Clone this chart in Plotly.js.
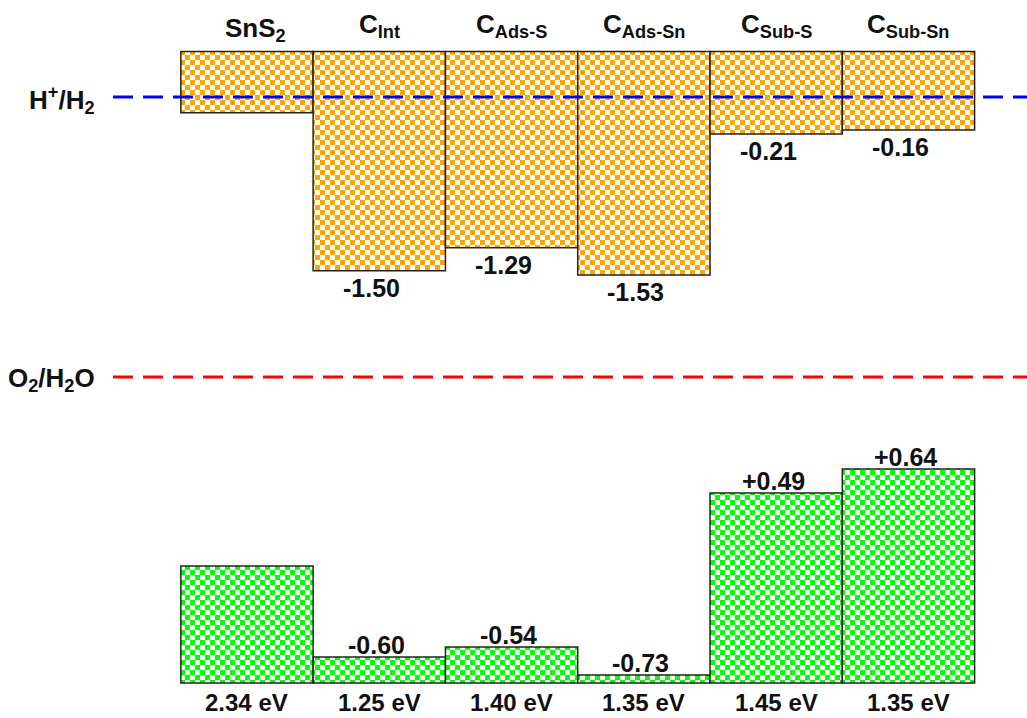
<!DOCTYPE html>
<html>
<head>
<meta charset="utf-8">
<script src="https://cdn.plot.ly/plotly-3.0.1.min.js"></script>
<style>
html,body{margin:0;padding:0;background:#fff;}
#chart{width:1027px;height:718px;}
</style>
</head>
<body>
<div id="chart"></div>
<script>
// ---- data (schematic vertical scale, H+/H2 = 0, O2/H2O = 1.23) ----
const categories = ['SnS<sub>2</sub>', 'C<sub>Int</sub>', 'C<sub>Ads-S</sub>', 'C<sub>Ads-Sn</sub>', 'C<sub>Sub-S</sub>', 'C<sub>Sub-Sn</sub>'];
const cbLabels   = ['', '-1.50', '-1.29', '-1.53', '-0.21', '-0.16'];
const vbLabels   = ['', '-0.60', '-0.54', '-0.73', '+0.49', '+0.64'];
const gapLabels  = ['2.34 eV', '1.25 eV', '1.40 eV', '1.35 eV', '1.45 eV', '1.35 eV'];
const cbTop      = [-0.20, -0.20, -0.20, -0.20, -0.20, -0.20];
const cbEdge     = [0.069, 0.763, 0.662, 0.782, 0.163, 0.145];
const vbBottom   = [2.574, 2.574, 2.574, 2.574, 2.574, 2.574];
const vbEdge     = [2.060, 2.460, 2.416, 2.539, 1.740, 1.634];
const redoxLevels = [0, 1.23];
const redoxNames  = ['H<sup>+</sup>/H<sub>2</sub>', 'O<sub>2</sub>/H<sub>2</sub>O'];
const redoxColors = ['#0000ff', '#ff0000'];

const idx = categories.map((_, i) => i);
const FONT = 'Liberation Sans, Arial, Helvetica, sans-serif';
const checker = 'M0,0H5V5H0ZM5,5H10V10H5Z';
const F = (sz) => ({family: FONT, size: sz, color: '#111111', weight: 'bold'});

const cbTrace = {
  type: 'bar', x: idx, base: cbTop,
  y: cbEdge.map((v, i) => v - cbTop[i]),
  width: 1,
  marker: {
    color: '#ffa500',
    line: {color: '#222222', width: 1.5},
    pattern: {path: checker, size: 10, fgcolor: '#ffa500', bgcolor: '#ffffff', fillmode: 'replace', solidity: 1}
  },
  hoverinfo: 'skip', showlegend: false
};
const vbTrace = {
  type: 'bar', x: idx, base: vbBottom,
  y: vbEdge.map((v, i) => v - vbBottom[i]),
  width: 1,
  marker: {
    color: '#00ff00',
    line: {color: '#222222', width: 1.5},
    pattern: {path: checker, size: 10, fgcolor: '#00ff00', bgcolor: '#ffffff', fillmode: 'replace', solidity: 1}
  },
  hoverinfo: 'skip', showlegend: false
};

const ann = [];
const H = 718;
categories.forEach((c, i) => {
  ann.push({x: i, xref: 'x', y: 1 - (i === 0 ? 29 : 25) / H, yref: 'paper',
    text: c, showarrow: false, xanchor: 'center', yanchor: 'middle',
    xshift: i === 0 ? 9 : 0, font: F(26)});
  if (cbLabels[i]) ann.push({x: i, xref: 'x', y: cbEdge[i], yref: 'y', yshift: -17, xshift: -8,
    text: cbLabels[i], showarrow: false, xanchor: 'center', yanchor: 'middle', font: F(25)});
  if (vbLabels[i]) ann.push({x: i, xref: 'x', y: vbEdge[i], yref: 'y', yshift: 12, xshift: -3,
    text: vbLabels[i], showarrow: false, xanchor: 'center', yanchor: 'middle', font: F(25)});
  ann.push({x: i, xref: 'x', y: vbBottom[i], yref: 'y', yshift: -20, borderpad: 0,
    text: gapLabels[i], showarrow: false, xanchor: 'center', yanchor: 'middle', font: F(24)});
});
const shapes = [];
redoxLevels.forEach((lv, k) => {
  shapes.push({type: 'line', xref: 'paper', x0: 113 / 1027, x1: 1, yref: 'y', y0: lv, y1: lv,
    line: {color: redoxColors[k], width: 3, dash: '20px,10px'}, layer: 'above'});
  ann.push({x: 97 / 1027, xref: 'paper', y: lv, yref: 'y', yshift: -3,
    text: redoxNames[k], showarrow: false, xanchor: 'right', yanchor: 'middle', font: F(26)});
});

const layout = {
  width: 1027, height: 718,
  margin: {l: 0, r: 0, t: 0, b: 0, pad: 0},
  paper_bgcolor: '#ffffff', plot_bgcolor: '#ffffff',
  barmode: 'overlay', bargap: 0,
  xaxis: {range: [-1.867, 5.896], visible: false, fixedrange: true},
  yaxis: {range: [2.728, -0.4261], visible: false, fixedrange: true},
  annotations: ann, shapes: shapes, showlegend: false
};
Plotly.newPlot('chart', [cbTrace, vbTrace], layout, {displayModeBar: false, staticPlot: true});
</script>
</body>
</html>
